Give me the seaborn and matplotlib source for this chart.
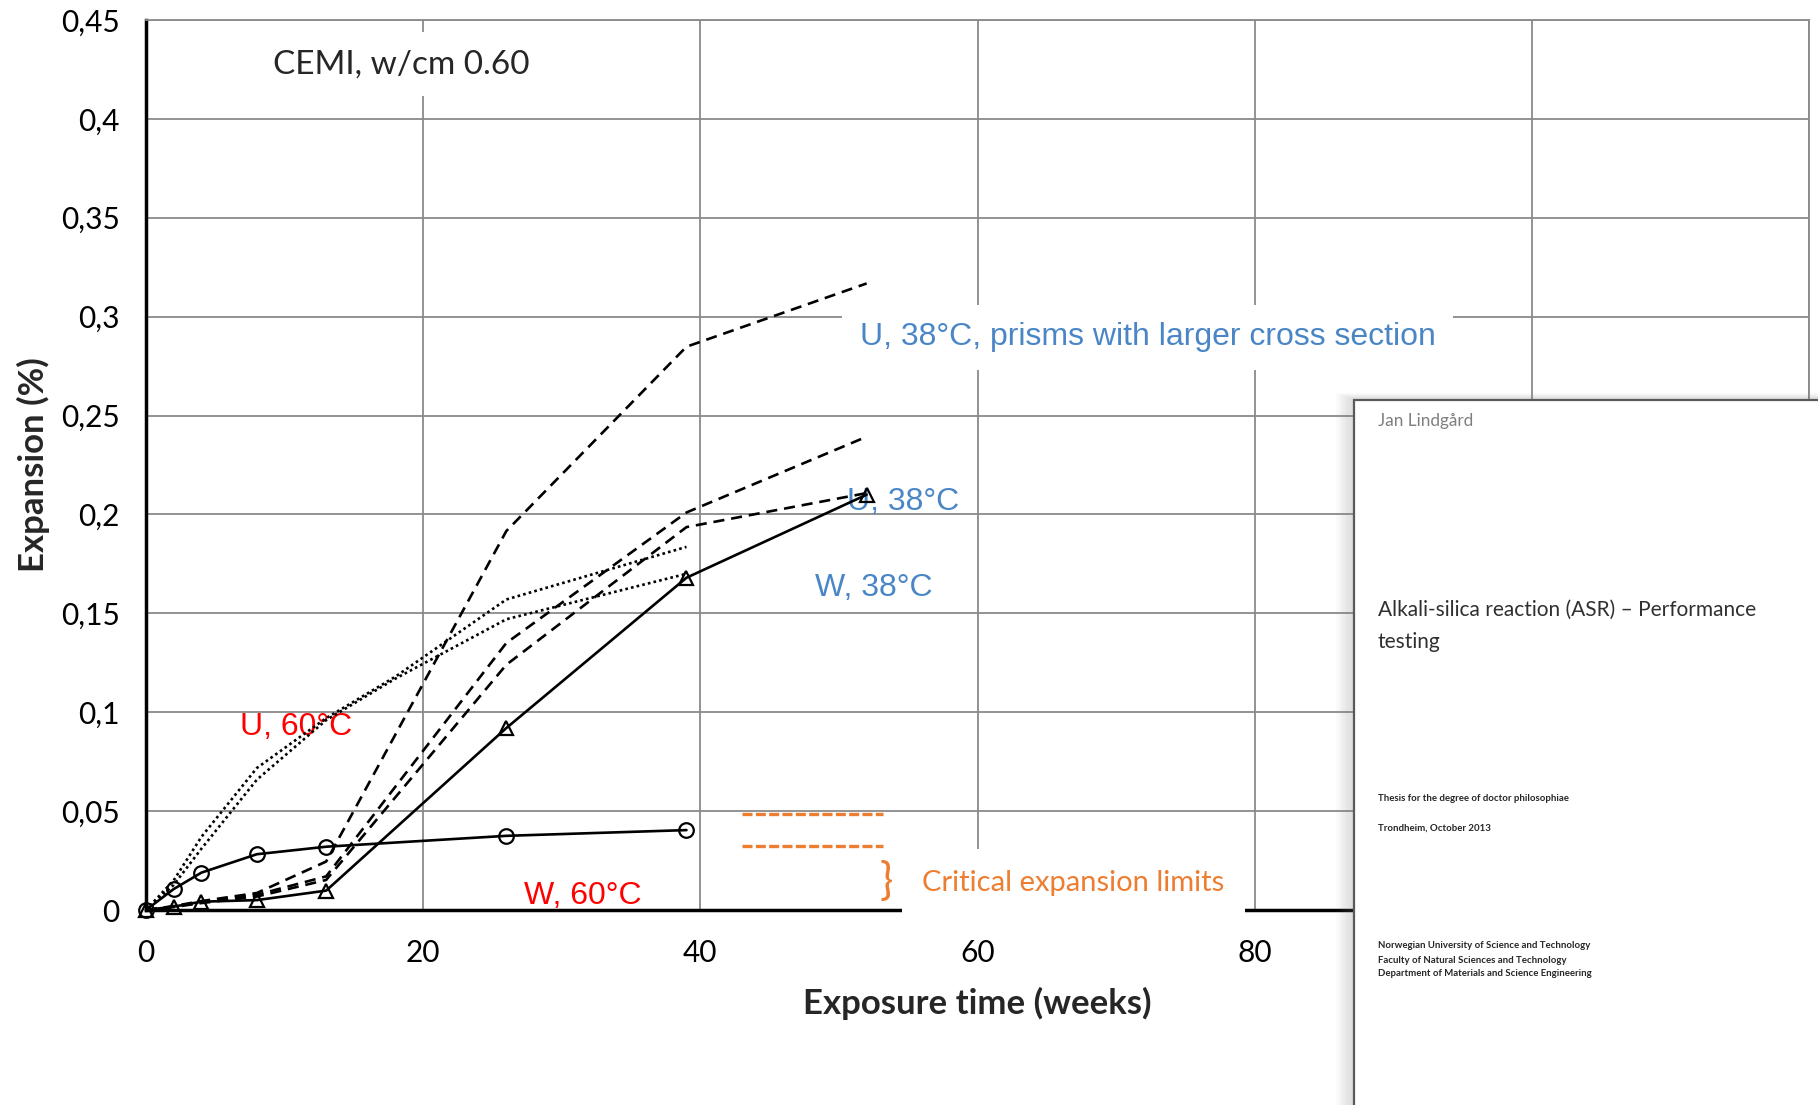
import numpy as np
import pandas as pd
import matplotlib
matplotlib.use('Agg')
import matplotlib.pyplot as plt
from matplotlib.patches import Rectangle
import seaborn as sns

# W, 60°C (circles)
weeks_w60 = [0, 2, 4, 8, 13, 26, 39]
exp_w60 = [0, 0.0106, 0.0189, 0.0282, 0.032, 0.0375, 0.0404]

# W, 38°C (triangles)
weeks_w38 = [0, 2, 4, 8, 13, 26, 39, 52]
exp_w38 = [0, 0.0017, 0.0042, 0.005, 0.0098, 0.092, 0.168, 0.21]

# U, 38°C (dashed)
weeks_u38 = [0, 2, 4, 8, 13, 26, 39, 52]
exp_u38_large = [0, 0.002, 0.0045, 0.0086, 0.0245, 0.1916, 0.2848, 0.3168]
exp_u38_a = [0, 0.0018, 0.004, 0.0077, 0.017, 0.135, 0.201, 0.2393]
exp_u38_b = [0, 0.0015, 0.0035, 0.0068, 0.0152, 0.124, 0.1936, 0.2108]

# U, 60°C (dotted)
weeks_u60 = [0, 2, 4, 8, 13, 18, 26, 39]
exp_u60_a = [0, 0.015, 0.037, 0.0718, 0.097, 0.118, 0.157, 0.1836]
exp_u60_b = [0, 0.0127, 0.031, 0.0659, 0.096, 0.117, 0.147, 0.170]

# critical expansion limits (orange)
limit_weeks = [43.0, 53.2]
limit_values = [0.0487, 0.0324]

x_ticks = [0, 20, 40, 60, 80, 100, 120]
x_ticklabels = ['0', '20', '40', '60', '80', '', '']  # 100 and 120 sit under the cover page
y_ticks = [0, 0.05, 0.1, 0.15, 0.2, 0.25, 0.3, 0.35, 0.4, 0.45]
y_ticklabels = ['0', '0,05', '0,1', '0,15', '0,2', '0,25', '0,3', '0,35', '0,4', '0,45']

sns.set_style('whitegrid')
plt.rcParams['font.family'] = ['Lato', 'DejaVu Sans']

BLUE = '#4a86c6'
RED = '#ff0000'
ORANGE = '#ed7d31'
GRID = '#8a8a8a'

fig = plt.figure(figsize=(18.18, 11.05), dpi=100)
ax = fig.add_axes([146 / 1818, 1 - 910 / 1105, 1663 / 1818, 890 / 1105])

line_kw = dict(color='black', estimator=None, sort=False, clip_on=False, ax=ax)
sns.lineplot(x=weeks_w60, y=exp_w60, marker='o', markersize=10.5, markerfacecolor='none',
             markeredgecolor='black', markeredgewidth=1.6, linewidth=1.9, **line_kw)
sns.lineplot(x=weeks_w38, y=exp_w38, marker='^', markersize=10.5, markerfacecolor='none',
             markeredgecolor='black', markeredgewidth=1.6, linewidth=1.9, **line_kw)
for vals in [exp_u38_large, exp_u38_a, exp_u38_b]:
    sns.lineplot(x=weeks_u38, y=vals, linestyle=(0, (4.2, 2.6)), linewidth=1.9, **line_kw)
for vals in [exp_u60_a, exp_u60_b]:
    sns.lineplot(x=weeks_u60, y=vals, linestyle=(0, (1, 1.2)), linewidth=1.9, **line_kw)

ax.hlines(limit_values, limit_weeks[0], limit_weeks[1], colors=ORANGE,
          linewidth=2.4, linestyles=[(0, (3, 1))])

ax.set_xlim(0, 120)
ax.set_ylim(0, 0.45)
ax.set_xticks(x_ticks)
ax.set_xticklabels(x_ticklabels)
ax.set_yticks(y_ticks)
ax.set_yticklabels(y_ticklabels)
ax.grid(True, color=GRID, linewidth=1.3)
ax.set_axisbelow(True)
ax.tick_params(axis='both', direction='out', length=6, width=2.2, color='black',
               labelsize=21.5, pad=13, labelcolor='black')
ax.tick_params(axis='x', pad=15)

for side in ['left', 'bottom']:
    ax.spines[side].set_color('black')
    ax.spines[side].set_linewidth(2.5)
for side in ['top', 'right']:
    ax.spines[side].set_color(GRID)
    ax.spines[side].set_linewidth(1.3)

ax.set_xlabel('Exposure time (weeks)', fontsize=25, fontweight='bold')
ax.set_ylabel('Expansion (%)', fontsize=25, fontweight='bold')
ax.xaxis.set_label_coords(0.5, -0.086)
ax.yaxis.set_label_coords(-0.058, 0.5)

white_box = dict(boxstyle='square,pad=0.5', facecolor='white', edgecolor='none')
ax.text(18.4, 0.4277, 'CEMI, w/cm 0.60', fontsize=24, ha='center', va='center',
        bbox=white_box, zorder=1.5)
ax.text(51.5, 0.2895, 'U, 38°C, prisms with larger cross section', fontsize=23,
        family='Liberation Sans', color=BLUE, ha='left', va='center',
        bbox=dict(boxstyle='square,pad=0.55', facecolor='white', edgecolor='none'), zorder=1.5)
ax.text(50.6, 0.2062, 'U, 38°C', fontsize=23, family='Liberation Sans', color=BLUE,
        ha='left', va='center', zorder=1.5)
ax.text(48.3, 0.1627, 'W, 38°C', fontsize=23, family='Liberation Sans', color=BLUE,
        ha='left', va='center', zorder=1.5)
ax.text(6.8, 0.0925, 'U, 60°C', fontsize=23, family='Liberation Sans', color=RED,
        ha='left', va='center', zorder=1.5)
ax.text(27.3, 0.0072, 'W, 60°C', fontsize=23, family='Liberation Sans', color=RED,
        ha='left', va='center', zorder=1.5)
ax.text(53.4, 0.0137, '}', fontsize=32, color=ORANGE, ha='center', va='center', zorder=3)
ax.text(56.0, 0.0138, 'Critical expansion limits', fontsize=21, color=ORANGE,
        ha='left', va='center', clip_on=False, zorder=3,
        bbox=dict(boxstyle='square,pad=0.7', facecolor='white', edgecolor='none'))

# thesis cover page laid over the lower right corner
cx, ctop = 1354 / 1818, 1 - 400 / 1105
for i in range(8):
    d = (i + 1) * 2.2
    fig.add_artist(Rectangle((cx - d / 1818, -0.01), 0.4, ctop + 0.01 + d / 1105 * 0.4,
                             transform=fig.transFigure, facecolor='#808080',
                             edgecolor='none', alpha=0.035, zorder=9))
fig.add_artist(Rectangle((cx, -0.01), 0.4, ctop + 0.01, transform=fig.transFigure,
                         facecolor='white', edgecolor='#5a5a5a', linewidth=1.6, zorder=10))
tx = 1378 / 1818
fig.text(tx, 0.619, 'Jan Lindgård', fontsize=12.3, color='#7f7f7f', va='center', zorder=11)
fig.text(tx, 0.448, 'Alkali-silica reaction (ASR) – Performance', fontsize=15,
         color='#303030', va='center', zorder=11)
fig.text(tx, 0.419, 'testing', fontsize=15, color='#303030', va='center', zorder=11)
small = dict(fontsize=6.9, fontweight='bold', color='#262626', va='center', zorder=11)
fig.text(tx, 0.277, 'Thesis for the degree of doctor philosophiae', **small)
fig.text(tx, 0.2507, 'Trondheim, October 2013', **small)
fig.text(tx, 0.1439, 'Norwegian University of Science and Technology', **small)
fig.text(tx, 0.1312, 'Faculty of Natural Sciences and Technology', **small)
fig.text(tx, 0.1186, 'Department of Materials and Science Engineering', **small)

fig.savefig('out.png', dpi=100)
